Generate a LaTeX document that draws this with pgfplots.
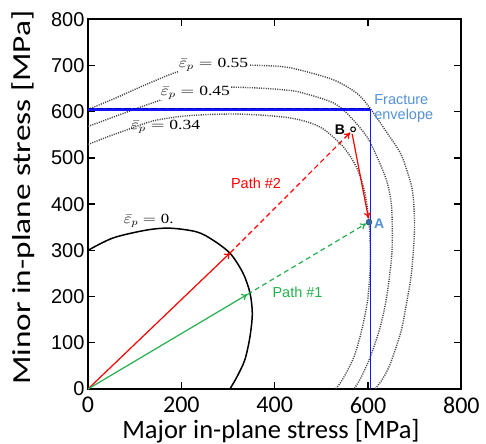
\documentclass[border=0pt]{standalone}
\usepackage{fontspec}
\usepackage{pgfplots}
\pgfplotsset{compat=1.18}
\usetikzlibrary{arrows.meta}
\usepackage{graphicx}
\newfontfamily\carlito{Carlito}
\newfontfamily\arialf{Liberation Sans}
\newfontfamily\timesf{Liberation Serif}
\definecolor{pgreen}{RGB}{34,177,76}
\definecolor{lblue}{RGB}{84,145,215}
\definecolor{mblue}{RGB}{55,105,165}
\definecolor{dgray}{RGB}{70,70,70}
\definecolor{pred}{RGB}{255,0,0}
\definecolor{fblue}{RGB}{20,20,255}
\begin{document}
\begin{tikzpicture}
\begin{axis}[at={(0,0)},anchor=south west,scale only axis,
  width=373.4bp,height=369.7bp,
  xmin=0,xmax=800,ymin=0,ymax=800,
  xtick={0,200,...,800}, ytick={0,100,...,800},
  tick align=inside, major tick length=7bp,
  every tick/.style={black,line width=1.4bp},
  axis line style={line width=1.8bp},
  /pgf/number format/assume math mode=true,
  xticklabel style={font=\carlito\fontsize{24bp}{28bp}\selectfont, yshift=-4.5bp},
  yticklabel style={font=\arialf\fontsize{20bp}{24bp}\selectfont},
  xlabel={Major in-plane stress [MPa]},
  xlabel style={font=\carlito\fontsize{26.5bp}{30bp}\selectfont, at={(axis description cs:0.49,-0.135)}, anchor=base},
  ylabel={\scalebox{1.28}[1]{Minor in-plane stress [MPa]}},
  ylabel style={font=\carlito\fontsize{26bp}{30bp}\selectfont, at={(axis description cs:-0.1727,0.5175)}, anchor=center},
]
% dotted iso-strain contours
\addplot[dgray, line width=1.4bp, dash pattern=on 1.1bp off 1.2bp, smooth, tension=0.5] coordinates {
(0,605) (60,630) (120,657) (191,686) (250,697) (326,701) (412,698) (455,690) (526,669) (576,640) (604,608) (641,554) (669,511) (683,474) (695,430) (699,380) (699,330) (693,250) (685,200) (673,134) (660,90) (645,48) (630,20) (615,0)};
\addplot[dgray, line width=1.4bp, dash pattern=on 1.1bp off 1.2bp, smooth, tension=0.5] coordinates {
(0,568) (80,598) (155,625) (220,645) (280,653) (350,652) (412,648) (455,642) (526,619) (562,589) (598,545) (622,496) (640,450) (650,400) (652,330) (650,280) (640,200) (626,134) (605,70) (585,25) (570,0)};
\addplot[dgray, line width=1.4bp, dash pattern=on 1.1bp off 1.2bp, smooth, tension=0.5] coordinates {
(0,529) (40,545) (84,561) (139,580) (200,590) (260,594) (320,595) (380,592) (430,587) (470,578) (505,562) (547,524) (575,480) (592,430) (602,362) (605,280) (600,200) (588,134) (570,70) (545,20) (530,0)};
% initial yield locus
\addplot[black, line width=1.5bp, smooth, tension=0.5] coordinates {
(0,300) (54,327) (126,344) (176,348) (233,340) (268,322) (305,293) (332,251) (347,208) (352,163) (347,113) (336,63) (319,26) (304,0)};
% fracture envelope
\addplot[fblue, line width=2.2bp] coordinates {(0,605) (605,605)};
\addplot[fblue, line width=1.5bp] coordinates {(605,606) (605,0)};
\addplot[blue!70!black, line width=1bp, dash pattern=on 6bp off 3bp] coordinates {(0,606) (605,606)};
% paths
\addplot[pred, line width=1.2bp, -{To[length=6bp,width=7bp]}] coordinates {(0,0) (305,295)};
\addplot[pred, line width=1.2bp, dash pattern=on 5bp off 3.5bp, -{To[length=6bp,width=7bp]}] coordinates {(305,295) (562,555)};
\addplot[pred, line width=1.2bp, -{To[length=6bp,width=7bp]}] coordinates {(566,552) (601,369)};
\addplot[pgreen, line width=1.2bp, -{To[length=6bp,width=7bp]}] coordinates {(0,0) (342,205)};
\addplot[pgreen, line width=1.2bp, dash pattern=on 5bp off 3.5bp, -{To[length=6bp,width=7bp]}] coordinates {(342,205) (596,358)};
% points A and B
\addplot[only marks, mark=o, mark size=2.4bp, black, line width=1bp] coordinates {(568,562)};
\addplot[only marks, mark=*, mark size=3bp, mark options={fill=mblue, draw=mblue!60!black}] coordinates {(602,361)};
% labels
\node[anchor=base west, fill=white, inner sep=0.5bp, font=\timesf\fontsize{14bp}{15bp}\selectfont] at (axis cs:193,696) {\scalebox{1.25}[1]{$\bar{\varepsilon}_p = \mbox{0.55}$}};
\node[anchor=base west, fill=white, inner sep=0.5bp, font=\timesf\fontsize{14bp}{15bp}\selectfont] at (axis cs:154,636) {\scalebox{1.25}[1]{$\bar{\varepsilon}_p = \mbox{0.45}$}};
\node[anchor=base west, inner sep=0.5bp, font=\timesf\fontsize{14bp}{15bp}\selectfont] at (axis cs:90,561) {\scalebox{1.25}[1]{$\bar{\varepsilon}_p = \mbox{0.34}$}};
\node[anchor=base west, inner sep=0.5bp, font=\timesf\fontsize{14bp}{15bp}\selectfont] at (axis cs:75,359) {\scalebox{1.2}[1]{$\bar{\varepsilon}_p = \mbox{0.}$}};
\node[pred, font=\arialf\fontsize{14.5bp}{17bp}\selectfont] at (axis cs:360,446) {Path \#2};
\node[pgreen, font=\arialf\fontsize{14.5bp}{17bp}\selectfont] at (axis cs:449,209) {Path \#1};
\node[lblue, anchor=base west, inner sep=0pt, font=\arialf\fontsize{14.5bp}{17bp}\selectfont] at (axis cs:613,615) {Fracture};
\node[lblue, anchor=base west, inner sep=0pt, font=\arialf\fontsize{14.5bp}{17bp}\selectfont] at (axis cs:613,584) {envelope};
\node[lblue, font=\arialf\bfseries\fontsize{14bp}{17bp}\selectfont] at (axis cs:624,357) {A};
\node[black, font=\arialf\bfseries\fontsize{14bp}{17bp}\selectfont] at (axis cs:540,561) {B};
\end{axis}
\pgfresetboundingbox
\path (-88bp,-55bp) rectangle (398bp,389bp);
\end{tikzpicture}
\end{document}
